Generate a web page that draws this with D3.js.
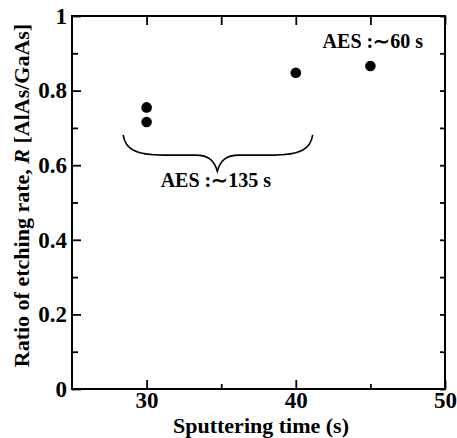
<!DOCTYPE html>
<html>
<head>
<meta charset="utf-8">
<script src="https://cdn.jsdelivr.net/npm/d3@7"></script>
<style>
  body { margin: 0; background: #fff; }
  svg text { font-family: 'Liberation Serif', 'Times New Roman', serif; font-weight: bold; }
</style>
</head>
<body>
<div id="canvas"></div>
<script>
// data
var times = [30, 30, 40, 45]
var ratios = [0.755, 0.716, 0.848, 0.866]

var xMajor = [30, 40, 50]
var xMinor = [35, 45]
var yMajor = [0, 0.2, 0.4, 0.6, 0.8, 1]
var yMinor = [0.1, 0.3, 0.5, 0.7, 0.9]

var xLabel = 'Sputtering time (s)'
var notes = ['AES :\u223c135 s', 'AES :\u223c60 s']

var margin = {top: 16, right: 12, bottom: 49, left: 72},
  width = 457 - margin.left - margin.right,
  height = 438 - margin.top - margin.bottom

var svg = d3.select('#canvas')
  .append('svg')
  .attr('width', 457)
  .attr('height', 438)
  .append('g')
  .attr('transform', 'translate(' + margin.left + ',' + margin.top + ')')

var x = d3.scaleLinear().domain([25, 50]).range([0, width])
var y = d3.scaleLinear().domain([0, 1]).range([height, 0])

function styleAxis (g) {
  g.select('.domain').remove()
  g.selectAll('line').attr('stroke', '#000').attr('stroke-width', 1.8)
  g.selectAll('text').attr('fill', '#000').style('font-size', '23px')
}

// bottom
svg.append('g')
  .attr('transform', 'translate(0,' + height + ')')
  .call(d3.axisBottom(x).tickValues(xMajor).tickSize(-9).tickPadding(3).tickFormat(d3.format('d')))
  .call(styleAxis)
svg.append('g')
  .attr('transform', 'translate(0,' + height + ')')
  .call(d3.axisBottom(x).tickValues(xMinor).tickSize(-5).tickFormat(''))
  .call(styleAxis)
// top
svg.append('g')
  .call(d3.axisTop(x).tickValues(xMajor.concat(xMinor)).tickSize(-9).tickFormat(''))
  .call(styleAxis)
// left
svg.append('g')
  .call(d3.axisLeft(y).tickValues(yMajor).tickSize(-9).tickPadding(5).tickFormat(d => d === 0 || d === 1 ? d3.format('d')(d) : d3.format('.1f')(d)))
  .call(styleAxis)
svg.append('g')
  .call(d3.axisLeft(y).tickValues(yMinor).tickSize(-6).tickFormat(''))
  .call(styleAxis)
// right
svg.append('g')
  .attr('transform', 'translate(' + width + ',0)')
  .call(d3.axisRight(y).tickValues(yMajor.concat(yMinor)).tickSize(-5).tickFormat(''))
  .call(styleAxis)

// frame
svg.append('rect')
  .attr('width', width)
  .attr('height', height)
  .attr('fill', 'none')
  .attr('stroke', '#000')
  .attr('stroke-width', 2)

// points
svg.append('g')
  .selectAll('circle')
  .data(times.map((t, i) => [t, ratios[i]]))
  .enter()
  .append('circle')
  .attr('cx', d => x(d[0]))
  .attr('cy', d => y(d[1]))
  .attr('r', 5.3)
  .attr('fill', '#000')

// brace under the 30 s points
var bx1 = x(28.43), bx2 = x(41.13), bxc = x(34.74)
var by0 = y(0.681), byH = y(0.627), byC = y(0.584)
var p = d3.path()
p.moveTo(bx1, by0)
p.bezierCurveTo(bx1 + 2, by0 + 14, bx1 + 12, byH, bx1 + 40, byH)
p.lineTo(bxc - 22, byH)
p.bezierCurveTo(bxc - 8, byH, bxc - 3, byH + 6, bxc, byC)
p.bezierCurveTo(bxc + 3, byH + 6, bxc + 8, byH, bxc + 22, byH)
p.lineTo(bx2 - 40, byH)
p.bezierCurveTo(bx2 - 12, byH, bx2 - 2, by0 + 14, bx2, by0)
svg.append('path')
  .attr('d', p.toString())
  .attr('fill', 'none')
  .attr('stroke', '#000')
  .attr('stroke-width', 1.6)

svg.append('text')
  .attr('x', x(34.64))
  .attr('y', y(0.5416))
  .attr('text-anchor', 'middle')
  .style('font-size', '20px')
  .text(notes[0])

svg.append('text')
  .attr('x', x(45.16))
  .attr('y', y(0.914))
  .attr('text-anchor', 'middle')
  .style('font-size', '20px')
  .text(notes[1])

// axis titles
svg.append('text')
  .attr('x', width / 2 + 2.5)
  .attr('y', height + 44)
  .attr('text-anchor', 'middle')
  .style('font-size', '22px')
  .text(xLabel)

var yt = svg.append('text')
  .attr('transform', 'translate(' + (-43) + ',' + (height / 2 - 7) + ') rotate(-90)')
  .attr('text-anchor', 'middle')
  .style('font-size', '22px')
yt.append('tspan').text('Ratio of etching rate, ')
yt.append('tspan').style('font-style', 'italic').text('R')
yt.append('tspan').text(' [AlAs/GaAs]')
</script>
</body>
</html>
